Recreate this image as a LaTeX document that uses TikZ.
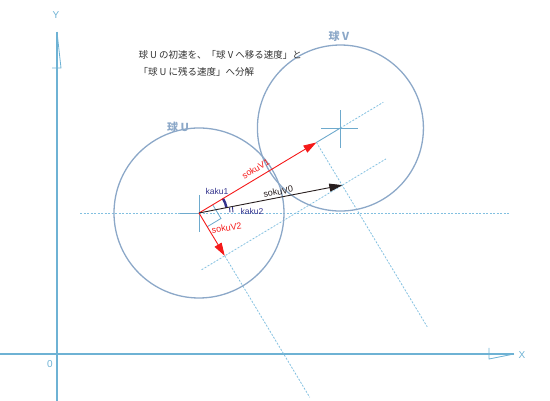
\documentclass[tikz,border=0pt]{standalone}
\usepackage{fontspec}
\setsansfont{Liberation Sans}
\newfontfamily\jpfont{Noto Sans CJK JP}
\usetikzlibrary{arrows.meta,calc}
\definecolor{axiscol}{RGB}{110,178,212}
\definecolor{ballcol}{RGB}{140,168,200}
\definecolor{guidecol}{RGB}{130,192,224}
\definecolor{crosscol}{RGB}{110,170,205}
\definecolor{kakucol}{RGB}{50,50,140}
\definecolor{vecred}{RGB}{245,25,25}
\definecolor{vecblack}{RGB}{40,30,30}
\tikzset{>/.tip={Triangle[length=13pt,width=8pt]},
  axisline/.style={draw=axiscol, line width=1.1pt},
  axislabel/.style={text=axiscol, font=\sffamily\fontsize{10}{12}\selectfont},
  ball/.style={draw=ballcol, line width=1.3pt},
  balllabel/.style={text=ballcol, font=\jpfont\bfseries\fontsize{11}{13}\selectfont},
  guide/.style={draw=guidecol, line width=0.8pt, dash pattern=on 2pt off 1.5pt},
  crossline/.style={draw=crosscol, line width=0.9pt},
  vec/.style={->, line width=0.9pt},
  veclabel/.style={font=\sffamily\fontsize{9}{11}\selectfont, inner sep=1pt},
  kakulabel/.style={text=kakucol, font=\sffamily\fontsize{8.5}{10}\selectfont},
}

\begin{document}
\begin{tikzpicture}[x=1pt,y=1pt]
\useasboundingbox (0,0) rectangle (550,401);

% axes
\coordinate (xstart) at (0,47);
\coordinate (xend) at (514,47);
\coordinate (ystart) at (57,0);
\coordinate (yend) at (57,369);
\draw[axisline] (xstart) -- (xend);
\draw[axisline] (ystart) -- (yend);
\draw[axisline, line width=0.8pt] ($(xend)+(-25,6)$) -- ($(xend)+(-25,-5)$) -- (xend);
\draw[axisline, line width=0.8pt] ($(yend)+(-5,-36)$) -- ($(yend)+(4,-36)$) -- (yend);
\node[axislabel] (xlab) at (522,46) {X};
\node[axislabel] (ylab) at (56,386) {Y};
\node[axislabel] (zero) at (50,37) {0};

% balls
\coordinate (U) at (199,188);
\coordinate (V) at ($(U)+(31:165)$);
\coordinate (t1) at ($(U)+(31:137)$);
\coordinate (t0) at ($(U)+(11:146)$);
\coordinate (t2) at ($(U)+(-59:50)$);

% guide lines
\draw[guide] ($(U)+(-119,0)$) -- (510,188);
\draw[guide] (V) -- ($(V)+(31:50)$);
\draw[guide] (t1) -- ($(t1)+(-59:215)$);
\draw[guide] ($(t2)+(31:-27)$) -- ($(t0)+(31:51)$);
\draw[guide] (t2) -- ($(t2)+(-59:165)$);

\draw[ball] (U) circle[radius=85];
\draw[ball] (V) circle[radius=83];
\node[balllabel] (ulab) at (178,274) {球 U};
\node[balllabel] (vlab) at (339,365) {球 V};

\node[anchor=north west, align=left, text=black!80,
  font=\jpfont\fontsize{9.5}{17}\selectfont] (note) at (135,354)
  {球 U の初速を、「球 V へ移る速度」と\\「球 U に残る速度」へ分解};

% crosses
\draw[crossline] ($(U)+(-19,0)$) -- (U);
\draw[crossline] ($(U)+(0,18)$) -- ($(U)+(0,-19)$);
\draw[crossline] ($(V)+(-19,0)$) -- ($(V)+(18,0)$);
\draw[crossline] ($(V)+(0,18)$) -- ($(V)+(0,-20)$);
\draw[crossline] (t1) -- (V);

% right angle and angles
\draw[draw=crosscol, line width=0.8pt] ($(U)+(31:16)$) -- ($(U)+(31:16)+(-59:16)$) -- ($(U)+(-59:16)$);
\draw[draw=kakucol, line width=2.4pt] ($(U)+(31:28)$) arc[start angle=31, end angle=11, radius=28];
\draw[draw=kakucol, line width=0.9pt] ($(U)+(10:31)$) arc[start angle=10, end angle=1, radius=31];
\draw[draw=kakucol, line width=0.9pt] ($(U)+(10:34)$) arc[start angle=10, end angle=1, radius=34];
\node[kakulabel] (kaku1) at (217,210) {kaku1};
\node[kakulabel] (kaku2) at (252,190) {kaku2};

% vectors
\draw[vec, vecred] (U) -- (t1) node[pos=0.52, sloped, above=4pt, veclabel, text=vecred] (v1lab) {sokuV1};
\draw[vec, vecblack] (U) -- (t0) node[pos=0.56, sloped, above=1pt, veclabel, text=vecblack] (v0lab) {sokuV0};
\draw[vec, vecred] (U) -- (t2) node[pos=0.4, right=1pt, rotate=8, veclabel, text=vecred, anchor=west] (v2lab) {sokuV2};
\end{tikzpicture}
\end{document}
